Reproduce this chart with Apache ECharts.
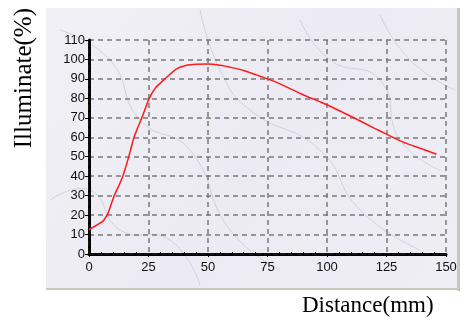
<!DOCTYPE html>
<html>
<head>
<meta charset="utf-8">
<script src="https://cdn.jsdelivr.net/npm/echarts@6/dist/echarts.min.js"></script>
<style>
  html, body { margin: 0; padding: 0; background: #ffffff; }
  #chart { width: 473px; height: 329px; }
</style>
</head>
<body>
<div id="chart"></div>
<script>
// Measured illuminance versus distance from the source
const distance = [0, 6, 8, 10.6, 12.5, 14.2, 15.5, 16.7, 17.8, 18.9, 20.5, 22.5, 25.3, 28, 31.9, 36.6, 41, 45, 50, 55, 60, 65, 70, 75, 80, 89, 97.5, 100, 110, 120, 125, 132, 140, 146];
const illuminate = [12.5, 17, 21, 30, 35, 40, 45, 50, 55, 60, 65, 71, 80, 85.5, 90, 95, 97, 97.5, 97.6, 97, 95.8, 94.3, 92.2, 90, 87.6, 82.4, 78, 76.7, 70.8, 64.6, 61.6, 57.5, 54, 51.3];

// Axis ranges and tick steps
const xRange = [0, 150], xStep = 25;
const yRange = [0, 110], yStep = 10;

const points = distance.map((d, i) => [d, illuminate[i]]);

const chart = echarts.init(document.getElementById('chart'), null, { renderer: 'canvas' });

const labelFont = { color: '#111', fontFamily: 'Liberation Sans, Arial, sans-serif', fontSize: 13 };
const serif = 'Liberation Serif, Times New Roman, serif';

// faint veins across the marble panel
const veinStyle = { stroke: '#c4c3d6', lineWidth: 1, fill: null, opacity: 0.7 };
const veins = [
  [[60, 30], [110, 60], [140, 120], [190, 150], [230, 230], [280, 270]],
  [[300, 20], [330, 60], [380, 80], [400, 140], [440, 170]],
  [[200, 10], [220, 70], [250, 110], [320, 150], [360, 210], [420, 250]],
  [[50, 200], [90, 190], [120, 230], [170, 240], [200, 285]],
  [[380, 15], [410, 60], [455, 90]]
].map(pts => ({ type: 'polyline', z: -8, silent: true, shape: { points: pts, smooth: 0.5 }, style: veinStyle }));

chart.setOption({
  animation: false,
  backgroundColor: '#ffffff',
  graphic: [
    // marble-tinted panel behind the plot
    { type: 'rect', z: -10, silent: true, shape: { x: 46, y: 8, width: 412, height: 281 },
      style: { fill: new echarts.graphic.LinearGradient(0, 0, 1, 1, [
        { offset: 0, color: '#f1f0f6' }, { offset: 0.5, color: '#ecebf3' }, { offset: 1, color: '#efeef5' }]) } },
    ...veins,
    { type: 'rect', z: -9, silent: true, shape: { x: 457, y: 8, width: 3, height: 283 }, style: { fill: '#cbc7bf' } },
    { type: 'rect', z: -9, silent: true, shape: { x: 46, y: 288, width: 414, height: 2 }, style: { fill: '#cbc7bf' } },
    { type: 'text', left: 12, top: 8, rotation: Math.PI / 2,
      style: { text: 'Illuminate(%)', fill: '#000', fontFamily: serif, fontSize: 25 } },
    { type: 'text', left: 302, top: 294,
      style: { text: 'Distance(mm)', fill: '#000', fontFamily: serif, fontSize: 23 } }
  ],
  grid: { left: 89, right: 27, top: 40, bottom: 75 },
  xAxis: [
    {
      type: 'value', min: xRange[0], max: xRange[1], interval: xStep, position: 'bottom',
      axisLine: { lineStyle: { color: '#000', width: 3 } },
      axisTick: { show: true, length: 3, lineStyle: { color: '#000', width: 1 } },
      minorTick: { show: true, splitNumber: 5, length: -2, lineStyle: { color: '#000' } },
      axisLabel: { ...labelFont, margin: 7 },
      splitLine: { show: true, lineStyle: { color: '#7a7a7a', width: 1.5, type: [5, 4] } }
    },
    {
      type: 'value', min: xRange[0], max: xRange[1], interval: xStep, position: 'top',
      axisLine: { show: true, lineStyle: { color: '#111', width: 2, type: [5, 3] } },
      axisTick: { show: false }, axisLabel: { show: false }, splitLine: { show: false }
    }
  ],
  yAxis: [
    {
      type: 'value', min: yRange[0], max: yRange[1], interval: yStep, position: 'left',
      axisLine: { show: true, lineStyle: { color: '#000', width: 3 } },
      axisTick: { show: true, length: 4, lineStyle: { color: '#000', width: 1 } },
      axisLabel: { ...labelFont, margin: 4 },
      splitLine: { show: true, lineStyle: { color: '#7a7a7a', width: 1.5, type: [5, 4] } }
    },
    {
      type: 'value', min: yRange[0], max: yRange[1], interval: yStep, position: 'right',
      axisLine: { show: true, lineStyle: { color: '#111', width: 2, type: [5, 3] } },
      axisTick: { show: false }, axisLabel: { show: false }, splitLine: { show: false }
    }
  ],
  series: [{
    type: 'line',
    data: points,
    smooth: 0.15,
    showSymbol: false,
    lineStyle: { color: '#ff1a1a', width: 1.5 },
    z: 5
  }]
});
</script>
</body>
</html>
